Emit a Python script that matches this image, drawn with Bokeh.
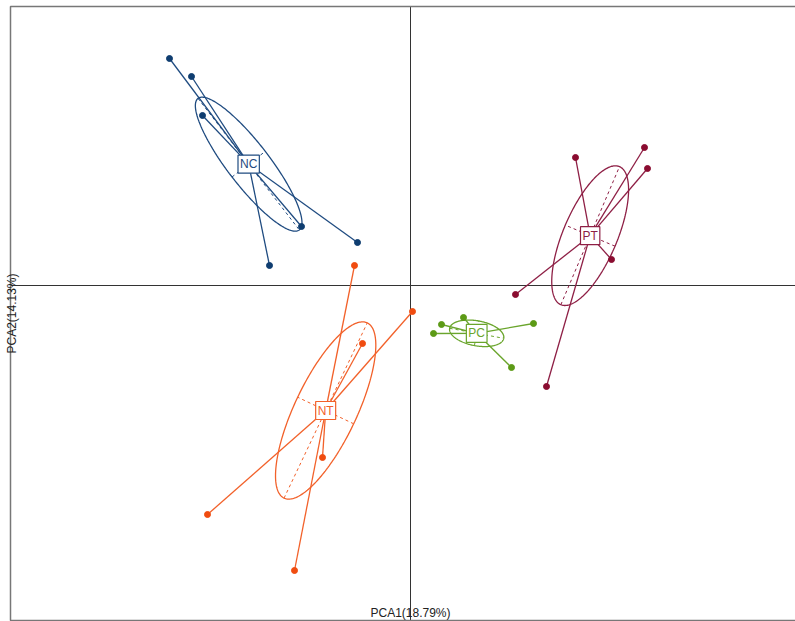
import numpy as np
from bokeh.plotting import figure
from bokeh.models import Label, BoxAnnotation
from bokeh.embed import file_html
from bokeh.resources import INLINE

# ---- data (PCA scores per group) ----
groups = ["NC", "PT", "PC", "NT"]
line_colors = ["#1f4b80", "#8e1f45", "#6aa52c", "#f2612a"]
point_colors = ["#0f3d70", "#8a0c30", "#5c9a16", "#f04c10"]

nc_x = [-2.41, -2.19, -2.08, -1.09, -0.53, -1.41]
nc_y = [2.27, 2.09, 1.70, 0.59, 0.43, 0.20]
pt_x = [1.65, 2.34, 2.37, 2.01, 1.05, 1.36]
pt_y = [1.28, 1.38, 1.17, 0.26, -0.09, -1.01]
pc_x = [0.53, 0.31, 0.23, 1.23, 1.01]
pc_y = [-0.32, -0.39, -0.48, -0.38, -0.82]
nt_x = [-0.56, 0.02, -0.48, -0.88, -2.03, -1.16]
nt_y = [0.20, -0.26, -0.58, -1.72, -2.29, -2.85]

# ellipse semi-axes and orientation (degrees)
ell_a = [0.83, 0.75, 0.275, 0.97]
ell_b = [0.21, 0.27, 0.125, 0.31]
ell_angle = [-52.4, 67.0, -10.5, 64.6]

# plotting window limits (data units)
box_left, box_right, box_bottom, box_top = -4.0, 3.95, -3.35, 2.79

xlab = "PCA1(18.79%)"
ylab = "PCA2(14.13%)"

xs_all = [nc_x, pt_x, pc_x, nt_x]
ys_all = [nc_y, pt_y, pc_y, nt_y]

p = figure(width=795, height=621, x_range=(-4.10, 3.85), y_range=(-3.36, 2.85),
           x_axis_location=None, y_axis_location=None,
           toolbar_location=None, output_backend="svg",
           min_border_left=0, min_border_right=0, min_border_top=0, min_border_bottom=0)
p.grid.visible = False
p.outline_line_color = None
p.background_fill_color = "white"
p.border_fill_color = "white"

p.add_layout(BoxAnnotation(left=box_left, right=box_right, bottom=box_bottom, top=box_top,
                           fill_color=None, fill_alpha=0, line_color="#777777",
                           line_width=1.5, line_alpha=1))
# origin axes, limited to the box
p.segment(x0=[0, box_left], y0=[box_bottom, 0], x1=[0, box_right], y1=[box_top, 0],
          line_color="#333333", line_width=1)

t = np.linspace(0, 2 * np.pi, 241)
for g, xs, ys, lc, pcol, a, b, ang in zip(groups, xs_all, ys_all, line_colors,
                                          point_colors, ell_a, ell_b, ell_angle):
    xs = np.array(xs); ys = np.array(ys)
    cx, cy = xs.mean(), ys.mean()
    th = np.radians(ang)
    c, s = np.cos(th), np.sin(th)
    # star segments
    p.segment(x0=[cx] * len(xs), y0=[cy] * len(ys), x1=xs, y1=ys,
              line_color=lc, line_width=1.3)
    # ellipse
    ex = cx + a * np.cos(t) * c - b * np.sin(t) * s
    ey = cy + a * np.cos(t) * s + b * np.sin(t) * c
    p.line(ex, ey, line_color=lc, line_width=1.3)
    # dashed axes
    p.segment(x0=[cx - a * c, cx + b * s], y0=[cy - a * s, cy - b * c],
              x1=[cx + a * c, cx - b * s], y1=[cy + a * s, cy + b * c],
              line_color=lc, line_width=1, line_dash="3 3")
    p.scatter(xs, ys, size=6, fill_color=pcol, line_color=pcol)
    p.add_layout(Label(x=cx, y=cy, text=g, text_align="center", text_baseline="middle",
                       text_color=lc, text_font="Liberation Sans", text_font_size="12px",
                       background_fill_color="white", border_line_color=lc,
                       border_line_width=1.2, padding=2))

p.add_layout(Label(x=0, y=2, y_units="screen", text=xlab, text_align="center",
                   text_baseline="bottom", text_color="#222222",
                   text_font="Liberation Sans", text_font_size="12px"))
p.add_layout(Label(x=11, x_units="screen", y=0.12, text=ylab, angle=np.pi / 2,
                   text_align="right", text_baseline="middle", text_color="#222222",
                   text_font="Liberation Sans", text_font_size="12px"))

open("out.html", "w").write(file_html(p, INLINE))
